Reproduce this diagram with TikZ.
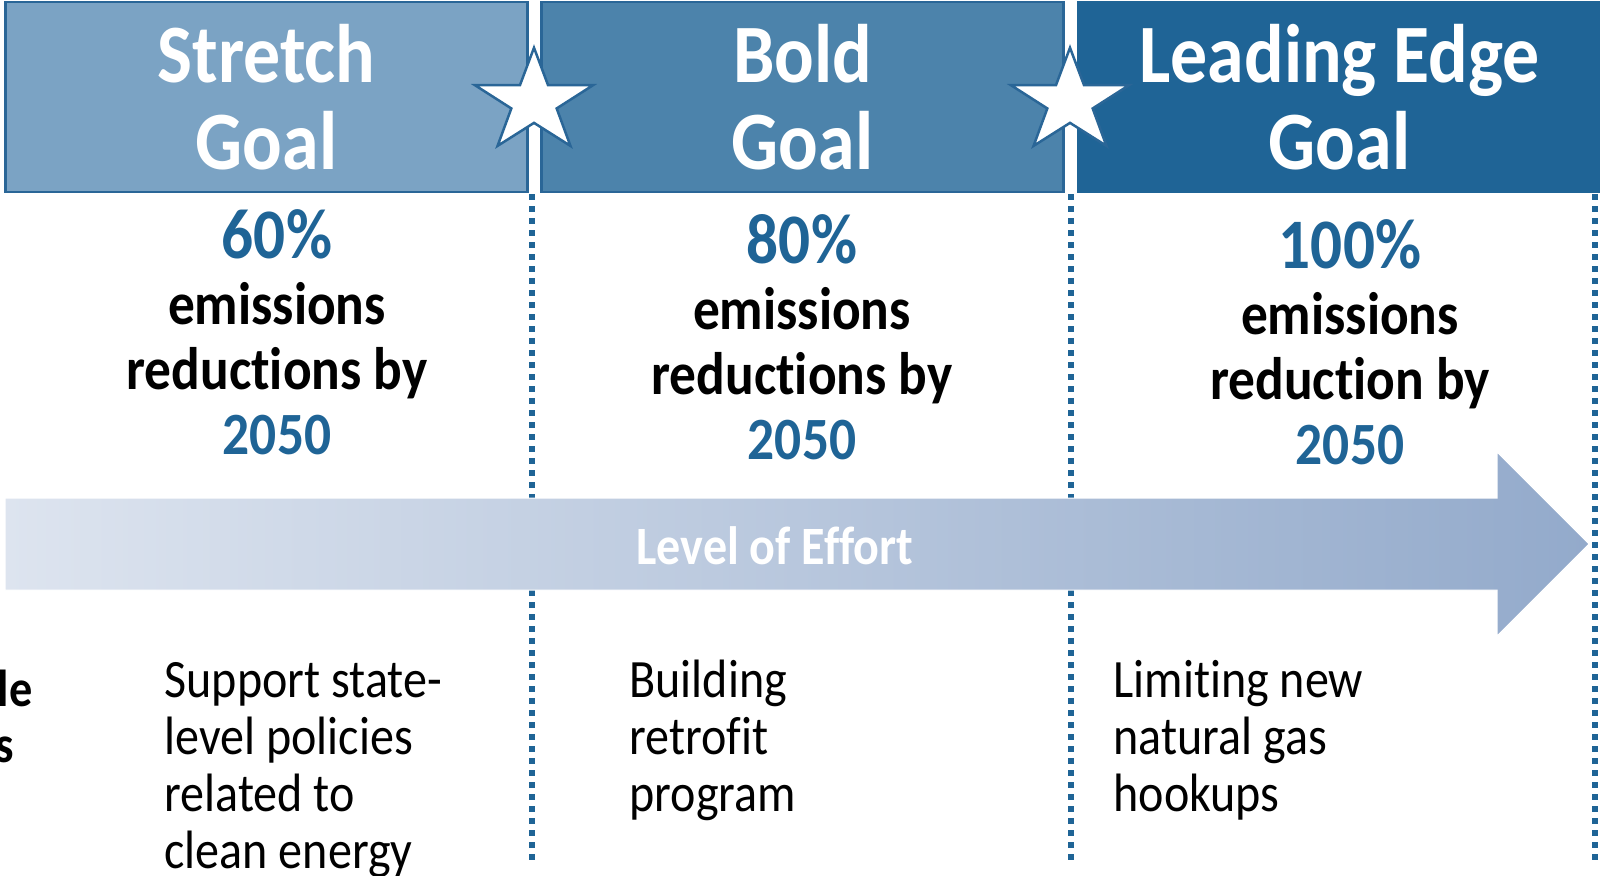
\documentclass[tikz,border=0pt]{standalone}
\usepackage{fontspec}
\setmainfont{Carlito}[FakeStretch=0.89, Ligatures=NoCommon]
\usetikzlibrary{shapes.geometric}
\definecolor{stretchfill}{HTML}{7BA3C4}
\definecolor{boldfill}{HTML}{4C83AB}
\definecolor{edgeblue}{HTML}{2A6697}
\definecolor{goalblue}{HTML}{1F6496}
\definecolor{arrowleft}{HTML}{DDE4EF}
\definecolor{arrowright}{HTML}{93AACB}

\begin{document}
\begin{tikzpicture}[
x=1pt, y=-1pt,
goal/.style={
	draw=edgeblue, line width=2.5pt,
	minimum width=522pt, minimum height=190pt,
	inner sep=0pt, text=white, align=center,
	font=\bfseries\fontsize{83}{87}\selectfont
},
starmark/.style={
	star, star points=5, star point ratio=2.6,
	draw=edgeblue, fill=white, line width=2.5pt,
	minimum size=124pt, inner sep=0pt,
	yscale=0.875, transform shape
},
pct/.style={anchor=base, text=goalblue, font=\bfseries\fontsize{71}{71}\selectfont},
claim/.style={anchor=base, align=center, font=\bfseries\fontsize{60}{65}\selectfont},
action/.style={anchor=base west, align=left, font=\fontsize{54}{57}\selectfont},
divider/.style={goalblue, line width=6pt, dash pattern=on 6pt off 6pt}
]
\useasboundingbox (0,0) rectangle (1600,875);
% goal boxes
\node[goal, fill=stretchfill] (stretch) at (266.5,97) {Stretch\\Goal};
\node[goal, fill=boldfill] (bold) at (802.5,97) {Bold\\Goal};
\node[goal, fill=goalblue, draw=goalblue] (lead) at (1339.5,97) {Leading Edge\\Goal};
% dotted dividers
\foreach \x in {532,1071,1595}
	\draw[divider] (\x,194) -- (\x,860);
\node[starmark] (star1) at (534,102) {};
\node[starmark] (star2) at (1070,102) {};
% targets (base = last line)
\node[pct] (p1) at (277,258) {60\%};
\node[claim] (c1) at (277,454) {emissions\\reductions by\\{\color{goalblue}2050}};
\node[pct] (p2) at (802,263) {80\%};
\node[claim] (c2) at (802,459) {emissions\\reductions by\\{\color{goalblue}2050}};
\node[pct] (p3) at (1350,268) {100\%};
\node[claim] (c3) at (1350,464) {emissions\\reduction by\\{\color{goalblue}2050}};
% level of effort arrow
\path[left color=arrowleft, right color=arrowright, draw=white, line width=1pt]
	(5,498) -- (1497,498) -- (1497,452) -- (1589,544)
	-- (1497,636) -- (1497,590) -- (5,590) -- cycle;
\node[text=white, font=\bfseries\fontsize{54}{54}\selectfont] (effort) at (775,546) {Level of Effort};
% actions
\node[anchor=base east, font=\bfseries\fontsize{52}{57}\selectfont] (cut1) at (36,706) {le};
\node[anchor=base east, font=\bfseries\fontsize{52}{57}\selectfont] (cut2) at (17,762) {s};
\node[action] (a1) at (161,868) {Support state-\\level policies\\related to\\clean energy};
\node[action] (a2) at (626,811) {Building\\retrofit\\program};
\node[action] (a3) at (1110,811) {Limiting new\\natural gas\\hookups};
\end{tikzpicture}
\end{document}
